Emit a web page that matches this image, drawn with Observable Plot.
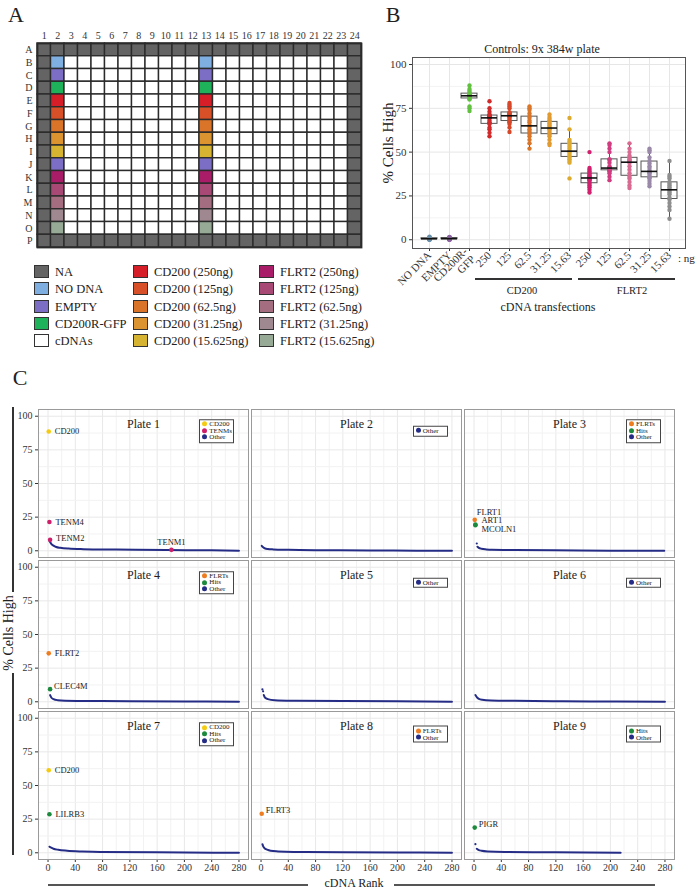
<!DOCTYPE html>
<html><head><meta charset="utf-8">
<script src="https://cdn.jsdelivr.net/npm/d3@7"></script>
<script src="https://cdn.jsdelivr.net/npm/@observablehq/plot@0.6"></script>
<style>
body{margin:0;background:#fff;}
#root{position:relative;width:696px;height:891px;overflow:hidden;font-family:"Liberation Serif","DejaVu Serif",serif;color:#222;}
.t{position:absolute;white-space:nowrap;transform:translate(-50%,-50%);line-height:1;font-family:"Liberation Serif","DejaVu Serif",serif;}
.abs{position:absolute;}
.leg{position:absolute;background:#fff;border:1px solid #444;box-sizing:border-box;padding:1px 2px;font-size:7px;line-height:6.5px;transform:translateY(-50%);font-family:"Liberation Serif","DejaVu Serif",serif;}
.leg div{white-space:nowrap;}
.leg span{display:inline-block;width:5px;height:5px;border-radius:50%;margin-right:2px;vertical-align:middle;position:relative;top:-0.5px;}
svg{overflow:visible;}
</style></head><body><div id="root"></div>
<script>
const SERIF = '"Liberation Serif","DejaVu Serif",serif';

// ---------- Panel A data ----------
const aRowLetters = ["A","B","C","D","E","F","G","H","I","J","K","L","M","N","O","P"];
const aColumns = [1,2,3,4,5,6,7,8,9,10,11,12,13,14,15,16,17,18,19,20,21,22,23,24];
const naColumns = [1, 24];
const naRows = ["A", "P"];
const controlColumns = [2, 13];
const controlRowKinds = ["NA","NO DNA","EMPTY","CD200R-GFP","CD200 (250ng)","CD200 (125ng)","CD200 (62.5ng)","CD200 (31.25ng)","CD200 (15.625ng)","EMPTY","FLRT2 (250ng)","FLRT2 (125ng)","FLRT2 (62.5ng)","FLRT2 (31.25ng)","FLRT2 (15.625ng)","NA"];
const legendNames = ["NA","NO DNA","EMPTY","CD200R-GFP","cDNAs",
  "CD200 (250ng)","CD200 (125ng)","CD200 (62.5ng)","CD200 (31.25ng)","CD200 (15.625ng)",
  "FLRT2 (250ng)","FLRT2 (125ng)","FLRT2 (62.5ng)","FLRT2 (31.25ng)","FLRT2 (15.625ng)"];
const legendColors = ["#646464","#7FAEE0","#7C6EC4","#1EB25A","#FFFFFF",
  "#D61E28","#D85028","#DA7428","#DC9430","#D6B432",
  "#A81C68","#A84874","#A46E80","#A08890","#96AA96"];

// ---------- Panel B data ----------
const bCategories = ["NO DNA","EMPTY","CD200R-GFP","CD200 250","CD200 125","CD200 62.5","CD200 31.25","CD200 15.63","FLRT2 250","FLRT2 125","FLRT2 62.5","FLRT2 31.25","FLRT2 15.63"];
const bTickLabels = ["NO DNA","EMPTY","CD200R-\nGFP","250","125","62.5","31.25","15.63","250","125","62.5","31.25","15.63"];
const bColors = ["#6A8FA8","#8C64A0","#62C040","#D02A2A","#D6482A","#D9762A","#E09A30","#DDAA30","#D0206E","#D03C80","#D86A92","#9A88A8","#8E8E8E"];
const noDnaValues = [0,0.1,0.2,0.3,0.3,0.4,0.4,0.5,0.5,0.6,0.6,0.7,0.8,0.9,1.0,1.2,1.5,1.8];
const emptyValues = [0,0.1,0.2,0.2,0.3,0.4,0.5,0.5,0.6,0.6,0.7,0.8,0.9,1.0,1.1,1.3,1.5,1.6];
const gfpValues = [73.5,75,76,80,80.5,81,81.5,81.8,82,82.3,82.5,82.7,83,83.5,84,85,86,88];
const cd200_250 = [59,61,63,64,66,66.5,67,68,69.3,69.8,70,70.3,70.5,71,71.5,73,75,79];
const cd200_125 = [61.5,64,66,67,67.5,68.5,69.5,70,70.5,71,71.5,72,72.2,72.8,75,76,77,78];
const cd200_62 = [52,55,57,59,60.5,61,62,63,64.5,65.5,67,68,69.5,70.5,72,74,75,76];
const cd200_31 = [54,55,57,59,60,61,62,63,63.5,64,65,65.5,66.5,67.5,68,69,70,71.5];
const cd200_15 = [35,44,45,46,47,48,49,50,50.3,50.8,52,53,54,55,56,57,63,69.5];
const flrt2_250 = [27,28.5,30,31,32,33,34,34.5,35,35.5,36,36.5,37,38,39,40,41,50];
const flrt2_125 = [34,36,38,39,39.5,40,40.3,40.6,40.8,41,42,44,45.5,46,50,52,54,55];
const flrt2_62 = [29.5,31,33,35,36,38,40,42,44,44.5,45,45.5,46,47,48,50,52,55];
const flrt2_31 = [30.5,32,33.5,35,35.5,36,37,38,38.5,39.5,41,42,43.5,45,47,50,51,52];
const flrt2_15 = [12,17,19,21,23,24,26,27,28,29,30,31,32,33,35,36,37,45];
const bYTicks = [0,25,50,75,100];
const bYMinor = [12.5,37.5,62.5,87.5];

// ---------- Panel C data ----------
const plateNames = ["Plate 1","Plate 2","Plate 3","Plate 4","Plate 5","Plate 6","Plate 7","Plate 8","Plate 9"];
const groupNames = ["CD200","TENMs","FLRTs","Hits","Other"];
const groupColors = ["#F4CB10","#CE1F6B","#EE7D22","#1C8A3C","#242C85"];
const plateLegends = [["CD200","TENMs","Other"],["Other"],["FLRTs","Hits","Other"],["FLRTs","Hits","Other"],["Other"],["Other"],["CD200","Hits","Other"],["FLRTs","Other"],["Hits","Other"]];
const otherPlate1 = [[2,7.5],[5,5],[8,3.8],[12,2.8],[18,2.2],[30,1.6],[52,1.2],[100,0.9],[174,0.5],[240,0.3],[280,0]];
const otherPlate2 = [[1,3.7],[3,2.6],[6,1.7],[10,1.3],[18,1.0],[40,0.7],[92,0.4],[160,0.2],[228,0.1],[280,0]];
const otherPlate3 = [[5,3],[7,2.2],[11,1.5],[18,1],[26,0.7],[60,0.5],[118,0.3],[200,0.1],[279,0]];
const otherPlate4 = [[3,5],[5,3],[8,2],[14,1.2],[25,0.8],[60,0.6],[120,0.4],[200,0.2],[280,0]];
const otherPlate5 = [[4,5],[6,3],[10,2],[20,1.2],[50,0.8],[120,0.5],[200,0.3],[280,0]];
const otherPlate6 = [[2,5],[4,3.5],[7,2.2],[12,1.5],[25,1],[60,0.7],[130,0.4],[210,0.2],[280,0]];
const otherPlate7 = [[2,4.5],[4,4],[8,3],[15,2.2],[28,1.5],[50,0.9],[77,0.5],[160,0.3],[280,0]];
const otherPlate8 = [[2,6.4],[3,5],[5,3.5],[9,2.3],[14,1.5],[25,1],[48,0.6],[120,0.4],[200,0.2],[280,0]];
const otherPlate9 = [[4,3],[7,2],[11,1.5],[20,1],[45,0.6],[120,0.4],[215,0.1]];
const outlierPlate = [3, 5, 5, 9];
const outlierRank = [4, 2, 3, 2];
const outlierValue = [5.4, 9.2, 7.8, 6.4];
const hitPlate = [1,1,1,1,3,3,3,4,4,7,7,8,9];
const hitName = ["CD200","TENM4","TENM2","TENM1","FLRT1","ART1","MCOLN1","FLRT2","CLEC4M","CD200","LILRB3","FLRT3","PIGR"];
const hitGroup = ["CD200","TENMs","TENMs","TENMs","FLRTs","Hits","Hits","FLRTs","Hits","CD200","Hits","FLRTs","Hits"];
const hitRank = [1,2,3,181,1,2,2,1,3,1,2,1,1];
const hitValue = [88.6,21.4,8.1,0.7,23,19.5,19,36,9.4,61.3,28.6,29,18.7];
const cXTicks = [0,40,80,120,160,200,240,280];
const cXMinor = [20,60,100,140,180,220,260];
const cYTicks = [0,25,50,75,100];
const cYMinor = [12.5,37.5,62.5,87.5];

// ---------- helpers ----------
const root = document.getElementById("root");
function place(node, x, y) { node.style.position = "absolute"; node.style.left = x + "px"; node.style.top = y + "px"; root.appendChild(node); return node; }
function label(text, x, y, size, extra) {
  const d = document.createElement("div"); d.className = "t"; d.textContent = text;
  d.style.left = x + "px"; d.style.top = y + "px"; d.style.fontSize = size + "px";
  d.style.fontFamily = SERIF;
  if (extra) Object.assign(d.style, extra);
  root.appendChild(d); return d;
}
function line(x1, y1, x2, y2, w, color) {
  const d = document.createElement("div"); d.className = "abs";
  d.style.left = Math.min(x1, x2) + "px"; d.style.top = Math.min(y1, y2) + "px";
  d.style.width = Math.max(Math.abs(x2 - x1), w) + "px"; d.style.height = Math.max(Math.abs(y2 - y1), w) + "px";
  d.style.background = color; root.appendChild(d); return d;
}

// ---------- Panel A ----------
label("A", 16, 15, 22);
const wells = [];
aRowLetters.forEach((r, i) => aColumns.forEach(c => {
  let kind = "cDNAs";
  if (naColumns.includes(c) || naRows.includes(r)) kind = "NA";
  else if (controlColumns.includes(c)) kind = controlRowKinds[i];
  wells.push({row: r, col: c, kind});
}));
const plotA = Plot.plot({
  width: 365, height: 230, marginLeft: 37, marginRight: 4, marginTop: 23, marginBottom: 3,
  style: {fontFamily: SERIF, fontSize: "10px", color: "#333", background: "transparent"},
  x: {type: "band", domain: aColumns, padding: 0, round: false, axis: "top", tickSize: 0, tickPadding: 5, label: null},
  y: {type: "band", domain: aRowLetters, padding: 0, round: false, tickSize: 0, tickPadding: 5, label: null},
  color: {domain: legendNames, range: legendColors},
  marks: [
    Plot.cell(wells, {x: "col", y: "row", fill: "kind", stroke: "#2b2b2b", strokeWidth: 1.4, inset: 0}),
    Plot.frame({stroke: "#2b2b2b", strokeWidth: 1.8})
  ]
});
place(plotA, 0, 20);

// legend A
legendNames.forEach((name, i) => {
  const col = Math.floor(i / 5), row = i % 5;
  const xs = [34, 133, 259][col];
  const yc = 272 + row * 17.3;
  const sw = document.createElement("div"); sw.className = "abs";
  Object.assign(sw.style, {left: xs + "px", top: (yc - 7) + "px", width: "15px", height: "13px", background: legendColors[i], border: "1.3px solid #333", boxSizing: "border-box"});
  root.appendChild(sw);
  label(name, xs + 21, yc, 12.5, {transform: "translate(0,-50%)"});
});

// ---------- Panel B ----------
label("B", 393, 15, 22);
const bValueLists = [noDnaValues, emptyValues, gfpValues, cd200_250, cd200_125, cd200_62, cd200_31, cd200_15, flrt2_250, flrt2_125, flrt2_62, flrt2_31, flrt2_15];
const bData = [];
bValueLists.forEach((vals, i) => vals.forEach(v => bData.push({cat: bCategories[i], v})));
const bStats = bCategories.map((cat, i) => {
  const s = bValueLists[i].slice().sort(d3.ascending);
  const q1 = d3.quantile(s, 0.25), q2 = d3.quantile(s, 0.5), q3 = d3.quantile(s, 0.75), iqr = q3 - q1;
  const lo = d3.min(s.filter(v => v >= q1 - 1.5 * iqr)), hi = d3.max(s.filter(v => v <= q3 + 1.5 * iqr));
  return {cat, q1, q2, q3, lo, hi};
});
const plotB = Plot.plot({
  width: 336, height: 290, marginLeft: 52, marginRight: 11, marginTop: 17, marginBottom: 82,
  style: {fontFamily: SERIF, fontSize: "11px", color: "#333", background: "transparent"},
  x: {type: "band", domain: bCategories, paddingInner: 0.2, paddingOuter: 0.2, tickFormat: d => bTickLabels[bCategories.indexOf(d)], tickRotate: -45, tickSize: 3, tickPadding: 2, label: null},
  y: {domain: [-5, 104], ticks: bYTicks, tickSize: 3, tickPadding: 3, label: null},
  color: {domain: bCategories, range: bColors},
  marks: [
    Plot.ruleY(bYMinor, {stroke: "#f3f3f3"}),
    Plot.ruleY(bYTicks, {stroke: "#e6e6e6"}),
    Plot.ruleX(bCategories, {stroke: "#e6e6e6"}),
    Plot.ruleX(bStats, {x: "cat", y1: "lo", y2: "q1", stroke: "#555"}),
    Plot.ruleX(bStats, {x: "cat", y1: "q3", y2: "hi", stroke: "#555"}),
    Plot.barY(bStats, {x: "cat", y1: "q1", y2: "q3", fill: "none", stroke: "#555", strokeWidth: 1}),
    Plot.dot(bData, {x: "cat", y: "v", fill: "cat", r: 2.2}),
    Plot.tickY(bStats, {x: "cat", y: "q2", stroke: "#111", strokeWidth: 1.6}),
    Plot.frame({stroke: "#555"})
  ]
});
place(plotB, 360, 40);
label("Controls: 9x 384w plate", 542, 49, 12);
label("% Cells High", 388, 143, 15, {transform: "translate(-50%,-50%) rotate(-90deg)"});
label(": ng", 678, 258, 11, {transform: "translate(0,-50%)"});
line(475, 278, 572, 278, 1.6, "#333");
line(578, 278, 675, 278, 1.6, "#333");
label("CD200", 522, 291, 10.5);
label("FLRT2", 632, 291, 10.5);
label("cDNA transfections", 548, 307, 12);

// ---------- Panel C ----------
label("C", 20, 378, 22);
const cTop = 400, cML = 38, cMR = 21, cMT = 8, cMB = 20, cW = 696, cH = 480;
const curveLists = [otherPlate1, otherPlate2, otherPlate3, otherPlate4, otherPlate5, otherPlate6, otherPlate7, otherPlate8, otherPlate9];
const facetOf = p => ({col: (p - 1) % 3, row: Math.floor((p - 1) / 3)});
const curveData = curveLists.flatMap((pts, i) => pts.map(([rank, value]) => ({plate: i + 1, ...facetOf(i + 1), rank, value})));
const outliers = outlierPlate.map((p, i) => ({plate: p, ...facetOf(p), rank: outlierRank[i], value: outlierValue[i]}));
const hits = hitName.map((n, i) => ({name: n, plate: hitPlate[i], ...facetOf(hitPlate[i]), group: hitGroup[i], rank: hitRank[i], value: hitValue[i]}));
const strips = plateNames.map((n, i) => ({name: n, ...facetOf(i + 1)}));
const specialLabels = ["TENM1", "FLRT1", "ART1", "MCOLN1", "TENM2", "CLEC4M", "FLRT3", "PIGR"];
const hitText = (filter, opts) => Plot.text(hits.filter(filter), {x: "rank", y: "value", text: "name", fx: "col", fy: "row", fill: "#222", fontSize: 8.5, textAnchor: "start", ...opts});
const fxPadIn = 0.014, fyPadIn = 0.02;
const plotC = Plot.plot({
  width: cW, height: cH, marginLeft: cML, marginRight: cMR, marginTop: cMT, marginBottom: cMB,
  style: {fontFamily: SERIF, fontSize: "10px", color: "#333", background: "transparent"},
  fx: {domain: [0, 1, 2], paddingInner: fxPadIn, paddingOuter: 0, axis: null, label: null},
  fy: {domain: [0, 1, 2], paddingInner: fyPadIn, paddingOuter: 0, axis: null, label: null},
  x: {domain: [-14, 294], ticks: cXTicks, tickSize: 3, tickPadding: 1, label: null},
  y: {domain: [-5, 105], ticks: cYTicks, tickSize: 3, tickPadding: 3, label: null},
  color: {domain: groupNames, range: groupColors},
  marks: [
    Plot.ruleX(cXMinor, {stroke: "#f2f2f2"}),
    Plot.ruleX(cXTicks, {stroke: "#e8e8e8"}),
    Plot.ruleY(cYMinor, {stroke: "#f2f2f2"}),
    Plot.ruleY(cYTicks, {stroke: "#e8e8e8"}),
    Plot.frame({stroke: "#9a9a9a"}),
    Plot.text(strips, {fx: "col", fy: "row", text: "name", frameAnchor: "top", dy: 10, fontSize: 12, fill: "#222"}),
    Plot.line(curveData, {x: "rank", y: "value", z: "plate", fx: "col", fy: "row", stroke: "#242C85", strokeWidth: 2, curve: "monotone-x"}),
    Plot.dot(outliers, {x: "rank", y: "value", fx: "col", fy: "row", fill: "#242C85", r: 1.1}),
    Plot.dot(hits, {x: "rank", y: "value", fx: "col", fy: "row", fill: "group", r: 2.3}),
    hitText(d => !specialLabels.includes(d.name), {dx: 6}),
    hitText(d => d.name === "TENM2", {dx: 6, dy: -2}),
    hitText(d => d.name === "TENM1", {textAnchor: "middle", dy: -8}),
    hitText(d => d.name === "FLRT1", {dx: 2, dy: -8}),
    hitText(d => d.name === "ART1", {dx: 6, dy: -4}),
    hitText(d => d.name === "MCOLN1", {dx: 6, dy: 4}),
    hitText(d => ["CLEC4M", "FLRT3", "PIGR"].includes(d.name), {dx: 4, dy: -3})
  ]
});
place(plotC, 0, cTop);

// Panel C legends (overlay)
const stepX = (cW - cML - cMR) / (3 - fxPadIn), bwX = stepX * (1 - fxPadIn);
const stepY = (cH - cMT - cMB) / (3 - fyPadIn);
plateLegends.forEach((entries, i) => {
  const {col, row} = facetOf(i + 1);
  const right = cML + col * stepX + bwX;
  const top = cTop + cMT + row * stepY;
  const box = document.createElement("div"); box.className = "leg";
  box.style.left = (right - 49) + "px"; box.style.top = (top + 23) + "px"; box.style.width = "35px";
  entries.forEach(g => {
    const e = document.createElement("div");
    const dot = document.createElement("span"); dot.style.background = groupColors[groupNames.indexOf(g)];
    e.appendChild(dot); e.appendChild(document.createTextNode(g));
    box.appendChild(e);
  });
  root.appendChild(box);
});

// Panel C outer labels
label("% Cells High", 9, 633, 14, {transform: "translate(-50%,-50%) rotate(-90deg)"});
line(12, 407, 12, 592, 1.6, "#333");
line(12, 673, 12, 855, 1.6, "#333");
label("cDNA Rank", 354, 883, 12);
line(48, 884, 308, 884, 1.6, "#555");
line(394, 884, 655, 884, 1.6, "#555");
</script></body></html>
